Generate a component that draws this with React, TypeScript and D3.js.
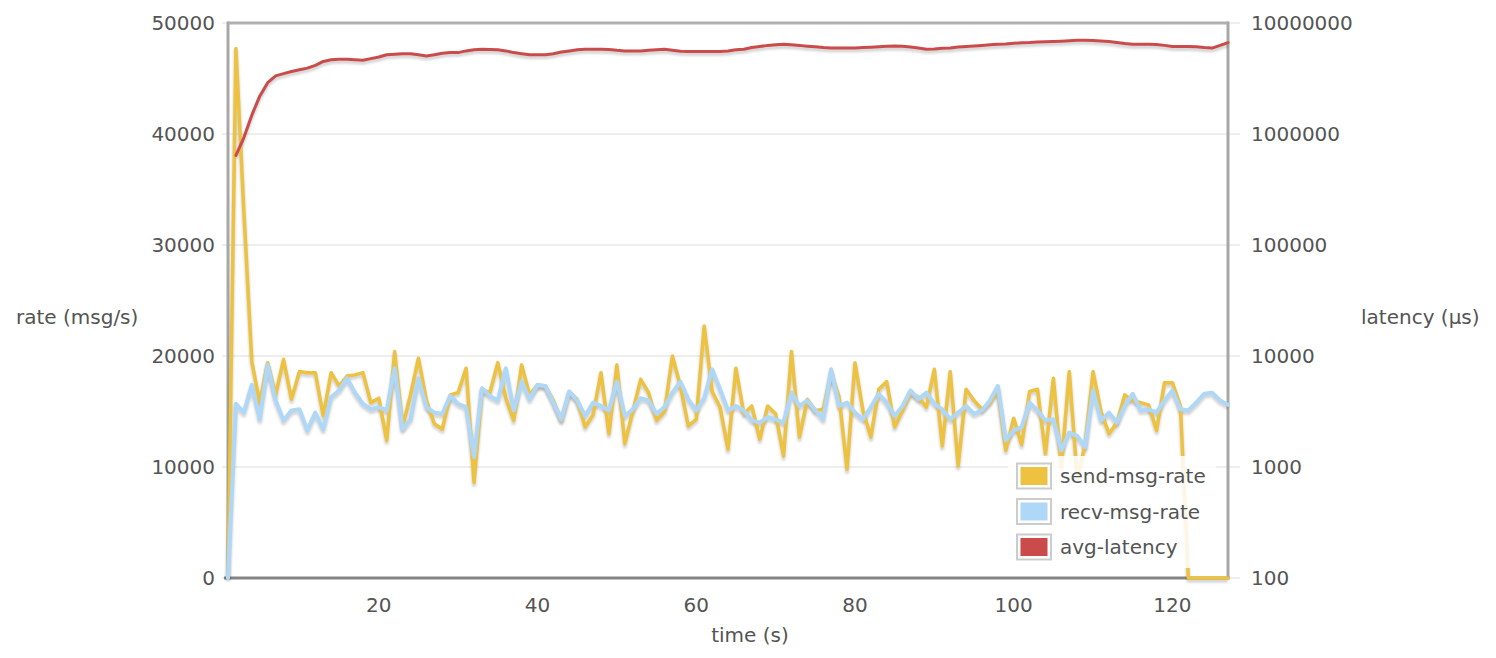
import React from "react";
import * as d3 from "d3";

// time in seconds, one sample per second
const times: number[] = d3.range(1, 128);

const sendRate: number[] = [
  0, 47700, 33000, 19500, 15800, 19400, 16500, 19700, 16100, 18600, 18500, 18500, 14600, 18500, 17300, 18200,
  18300, 18500, 15800, 16200, 12400, 20400, 13600, 16500, 19800, 16000, 13900, 13400, 16500, 16700, 18900, 8600,
  17000, 16700, 19400, 16200, 14200, 19200, 16500, 17400, 17300, 16000, 14200, 16800, 16100, 13600, 14700, 18500,
  13000, 19200, 12100, 15000, 17900, 16700, 14200, 15000, 20000, 17300, 13700, 14300, 22700, 16800, 15400, 11600,
  18900, 14800, 15500, 12500, 15500, 14800, 11000, 20400, 12700, 16100, 15100, 15200, 18500, 16300, 9800, 19400,
  15100, 12700, 17000, 17700, 13600, 15100, 16700, 16300, 15400, 18800, 11900, 18600, 10100, 17000, 16000, 15200,
  15800, 17000, 11500, 14400, 12000, 16800, 17000, 11200, 18000, 10000, 18600, 9000, 12000, 18600, 15000, 13000,
  14000, 16500, 16000, 15800, 15600, 13300, 17600, 17600, 15500, 0, 0, 0, 0, 0, 0,
];

const recvRate: number[] = [
  0, 15700, 14900, 17400, 14300, 19200, 16000, 14200, 15100, 15200, 13300, 14900, 13400, 16300, 16900, 18000,
  16700, 15700, 15200, 15400, 15100, 18900, 13400, 14300, 18000, 15400, 14900, 14800, 16400, 15700, 15400, 10900,
  17100, 16400, 16000, 18900, 15100, 17700, 16100, 17400, 17300, 15800, 14300, 16800, 16000, 14600, 15800, 15500,
  15100, 17700, 14600, 15200, 16200, 16000, 14800, 15400, 16700, 17700, 16100, 15100, 16200, 18800, 17000, 15100,
  15500, 15100, 14200, 14000, 14500, 14300, 14000, 16700, 15500, 16000, 15100, 14300, 18800, 15500, 15800, 14900,
  14300, 15400, 16600, 15800, 14600, 15500, 16900, 16100, 16700, 15700, 15200, 14300, 14900, 15500, 14800, 15100,
  16000, 17300, 12400, 13300, 13600, 15800, 15100, 14200, 14300, 11500, 13100, 12800, 11800, 16900, 14200, 14900,
  14000, 15500, 16600, 15100, 15200, 14900, 16000, 16900, 15200, 15100, 15800, 16600, 16700, 16000, 15600,
];

const avgLatency: (number | null)[] = [
  null, 641000, 929000, 1479000, 2193000, 2897000, 3337000, 3499000, 3661000, 3791000, 3920000, 4158000,
  4504000, 4666000, 4720000, 4720000, 4666000, 4612000, 4774000, 4936000, 5173000, 5227000, 5292000, 5292000,
  5173000, 5054000, 5173000, 5346000, 5411000, 5411000, 5605000, 5735000,
  5800000, 5778000, 5735000, 5605000, 5411000, 5292000, 5173000, 5173000, 5173000, 5292000,
  5476000, 5605000, 5735000, 5800000, 5800000, 5800000, 5778000, 5670000, 5605000, 5605000,
  5605000, 5670000, 5735000, 5800000, 5670000, 5562000, 5540000, 5540000, 5540000, 5540000,
  5540000, 5605000, 5735000, 5800000, 6005000, 6145000, 6286000, 6361000, 6437000, 6361000,
  6286000, 6188000, 6102000, 6005000, 5962000, 5940000, 5940000, 5962000, 6005000, 6048000,
  6102000, 6167000, 6210000, 6167000, 6070000, 5940000, 5800000, 5843000, 5908000, 5962000,
  6070000, 6145000, 6210000, 6286000, 6361000, 6437000, 6480000, 6556000, 6631000, 6664000,
  6739000, 6782000, 6815000, 6858000, 6912000, 6977000, 6977000, 6944000, 6890000, 6815000,
  6664000, 6534000, 6448000, 6437000, 6437000, 6415000, 6286000, 6145000, 6145000, 6145000,
  6102000, 6005000, 5940000, 6286000, 6664000,
];

const rateTicks: number[] = [0, 10000, 20000, 30000, 40000, 50000];
const latencyTicks: number[] = [100, 1000, 10000, 100000, 1000000, 10000000];
const timeTicks: number[] = [20, 40, 60, 80, 100, 120];

const legendItems = [
  { name: "send-msg-rate", color: "#edc240" },
  { name: "recv-msg-rate", color: "#afd8f8" },
  { name: "avg-latency", color: "#cb4b4b" },
];

const W = 1496;
const H = 658;
const L = 228;
const R = 1228;
const T = 23;
const B = 578;
const FONT = "'DejaVu Sans', Verdana, sans-serif";
const TEXT = "#545454";

export default function App() {
  const x = d3.scaleLinear().domain([times[0], times[times.length - 1]]).range([L, R]);
  const yL = d3.scaleLinear().domain([0, 50000]).range([B, T]);
  const yR = d3.scaleLog().domain([100, 10000000]).range([B, T]);

  const rateLine = d3
    .line<number>()
    .x((_, i) => x(times[i]))
    .y((d) => yL(d));
  const latLine = d3
    .line<number | null>()
    .defined((d) => d != null)
    .x((_, i) => x(times[i]))
    .y((d) => yR(d as number));

  const series = [
    { d: rateLine(sendRate) || "", color: legendItems[0].color, w: 3.5 },
    { d: rateLine(recvRate) || "", color: legendItems[1].color, w: 4 },
    { d: latLine(avgLatency) || "", color: legendItems[2].color, w: 3 },
  ];

  return (
    <svg
      width={W}
      height={H}
      style={{ position: "absolute", left: 0, top: 0, display: "block", background: "#fff" }}
      fontFamily={FONT}
    >
      <defs>
        <filter id="shadowBlur" x="-5%" y="-5%" width="110%" height="110%">
          <feGaussianBlur stdDeviation="1.2" />
        </filter>
      </defs>
      <rect x={0} y={0} width={W} height={H} fill="#fff" />

      {/* grid lines + tick marks */}
      {rateTicks.map((t) => (
        <line key={"g" + t} x1={L - 6} x2={R + 12} y1={yL(t)} y2={yL(t)} stroke="#e8e8e8" strokeWidth={1.5} />
      ))}

      {/* frame */}
      <line x1={L} x2={R} y1={T} y2={T} stroke="#b0b0b0" strokeWidth={3} />
      <line x1={L} x2={L} y1={T - 1.5} y2={B} stroke="#a8a8a8" strokeWidth={3} />
      <line x1={R} x2={R} y1={T - 1.5} y2={B} stroke="#a8a8a8" strokeWidth={3} />
      <line x1={L - 4} x2={R + 1.5} y1={B} y2={B} stroke="#858585" strokeWidth={3} />

      {/* left axis labels */}
      {rateTicks.map((t) => (
        <text key={"l" + t} x={215} y={yL(t)} dy="0.36em" textAnchor="end" fontSize={20} fill={TEXT}>
          {t}
        </text>
      ))}
      {/* right axis labels */}
      {latencyTicks.map((t) => (
        <text key={"r" + t} x={1251} y={yR(t)} dy="0.36em" textAnchor="start" fontSize={20} fill={TEXT}>
          {String(t)}
        </text>
      ))}
      {/* x axis labels */}
      {timeTicks.map((t) => (
        <text key={"x" + t} x={x(t)} y={612} textAnchor="middle" fontSize={20} fill={TEXT}>
          {t}
        </text>
      ))}

      {/* axis titles */}
      <text x={750} y={642} textAnchor="middle" fontSize={20} fill={TEXT}>
        time (s)
      </text>
      <text x={16} y={324} textAnchor="start" fontSize={20} fill={TEXT}>
        rate (msg/s)
      </text>
      <text x={1361} y={324} textAnchor="start" fontSize={20} fill={TEXT}>
        latency (µs)
      </text>

      {/* series shadows */}
      {series.map((s, i) => (
        <path
          key={"s" + i}
          d={s.d}
          fill="none"
          stroke="rgba(0,0,0,0.16)"
          strokeWidth={s.w + 1}
          strokeLinejoin="round"
          transform="translate(0,2.5)"
          filter="url(#shadowBlur)"
        />
      ))}
      {/* series lines */}
      {series.map((s, i) => (
        <path
          key={"p" + i}
          d={s.d}
          fill="none"
          stroke={s.color}
          strokeWidth={s.w}
          strokeLinejoin="round"
          strokeLinecap="round"
        />
      ))}

      {/* legend */}
      <rect x={1008} y={456} width={208} height={112} fill="#fff" opacity={0.85} />
      {legendItems.map((it, i) => {
        const y0 = 463.5 + i * 35.5;
        return (
          <g key={"lg" + i}>
            <rect x={1017} y={y0} width={34} height={25} fill="#fff" stroke="#cccccc" strokeWidth={2} />
            <rect x={1020.5} y={y0 + 3.5} width={27} height={18} fill={it.color} />
            <text x={1060} y={y0 + 12.5} dy="0.36em" fontSize={20} fill={TEXT}>
              {it.name}
            </text>
          </g>
        );
      })}
    </svg>
  );
}
